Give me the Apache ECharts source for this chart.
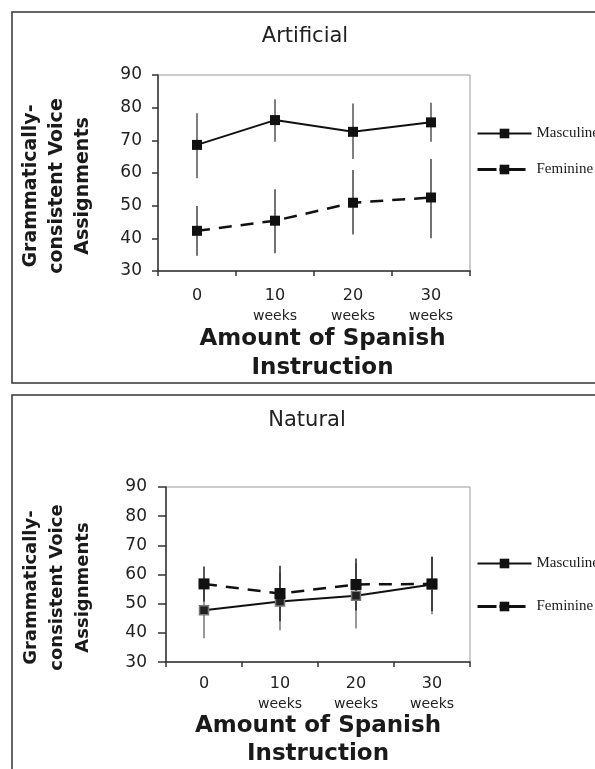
<!DOCTYPE html>
<html>
<head>
<meta charset="utf-8">
<script src="https://cdn.jsdelivr.net/npm/echarts@6/dist/echarts.min.js"></script>
<style>
  html, body { margin: 0; padding: 0; background: #fff; }
  #chart { width: 595px; height: 769px; }
</style>
</head>
<body>
<div id="chart"></div>
<script>
  // categories (x axis)
  var categories = ['0', '10\nweeks', '20\nweeks', '30\nweeks'];
  var seriesNames = ['Masculine', 'Feminine'];

  // Artificial panel
  var artMasc = [68.6, 76.2, 72.6, 75.5];
  var artMascLow = [58.4, 69.6, 64.3, 69.6];
  var artMascHigh = [78.3, 82.6, 81.3, 81.5];
  var artFem = [42.3, 45.4, 50.9, 52.5];
  var artFemLow = [34.7, 35.4, 41.2, 40.0];
  var artFemHigh = [49.9, 55.0, 60.9, 64.3];

  // Natural panel
  var natMasc = [47.8, 50.8, 52.7, 56.6];
  var natMascLow = [38.2, 40.9, 41.5, 46.4];
  var natMascHigh = [57.4, 60.7, 63.9, 66.1];
  var natFem = [56.8, 53.5, 56.6, 56.8];
  var natFemLow = [50.8, 44.0, 47.7, 47.5];
  var natFemHigh = [62.8, 63.0, 65.5, 66.1];

  function errData(low, high) {
    var out = [];
    for (var i = 0; i < low.length; i++) {
      out.push([i, low[i], high[i]]);
    }
    return out;
  }

  function errSeries(idx, low, high, color) {
    return {
      type: 'custom',
      xAxisIndex: idx,
      yAxisIndex: idx,
      z: 1,
      silent: true,
      data: errData(low, high),
      renderItem: function (params, api) {
        var p1 = api.coord([api.value(0), api.value(1)]);
        var p2 = api.coord([api.value(0), api.value(2)]);
        return {
          type: 'line',
          shape: { x1: p1[0], y1: p1[1], x2: p2[0], y2: p2[1] },
          style: { stroke: color, lineWidth: 1.5 }
        };
      }
    };
  }

  function xAxisFor(idx, margin, lh, nameGap, nameLh, namePad) {
    return {
      type: 'category',
      gridIndex: idx,
      data: categories,
      axisLine: { lineStyle: { color: '#333', width: 1.5 } },
      axisTick: { show: true, length: 5, lineStyle: { color: '#333', width: 1.5 } },
      axisLabel: {
        margin: margin,
        formatter: function (v) {
          var parts = v.split('\n');
          return parts.length > 1 ? '{n|' + parts[0] + '}\n{w|' + parts[1] + '}' : '{n|' + v + '}';
        },
        rich: {
          n: { fontFamily: 'DejaVu Sans', fontSize: 16, color: '#222', lineHeight: lh },
          w: { fontFamily: 'DejaVu Sans', fontSize: 14, color: '#222', lineHeight: lh }
        }
      },
      name: 'Amount of Spanish\nInstruction',
      nameLocation: 'middle',
      nameGap: nameGap,
      nameTextStyle: {
        fontFamily: 'DejaVu Sans', fontWeight: 'bold', fontSize: 23,
        color: '#1a1a1a', lineHeight: nameLh, padding: namePad
      }
    };
  }

  function yAxisFor(idx, tickLen, margin, nameGap, nameSize) {
    return {
      type: 'value',
      gridIndex: idx,
      min: 30, max: 90, interval: 10,
      splitLine: { show: false },
      axisLine: { show: true, lineStyle: { color: '#333', width: 1.5 } },
      axisTick: { show: true, length: tickLen, lineStyle: { color: '#333', width: 1.5 } },
      axisLabel: { margin: margin, fontFamily: 'DejaVu Sans', fontSize: 17, color: '#222' },
      name: 'Grammatically-\nconsistent Voice\nAssignments',
      nameLocation: 'middle',
      nameGap: nameGap,
      nameTextStyle: {
        fontFamily: 'DejaVu Sans', fontWeight: 'bold', fontSize: nameSize,
        color: '#1a1a1a', lineHeight: 26, padding: [0, 26, 0, 0]
      }
    };
  }

  // legend entries; the feminine one gets a short "—■—" look
  var legendData = [
    { name: seriesNames[0], lineStyle: { width: 2 } },
    { name: seriesNames[1], lineStyle: { width: 3, type: [19, 3, 26, 100] } }
  ];

  var chart = echarts.init(document.getElementById('chart'));
  chart.setOption({
    backgroundColor: '#fff',
    animation: false,
    graphic: [
      { type: 'rect', shape: { x: 12, y: 12, width: 620, height: 371 },
        style: { fill: 'none', stroke: '#333', lineWidth: 1.5 } },
      { type: 'rect', shape: { x: 12, y: 395, width: 620, height: 400 },
        style: { fill: 'none', stroke: '#333', lineWidth: 1.5 } }
    ],
    title: [
      { text: 'Artificial', left: 305, top: 26, textAlign: 'center', padding: 0,
        textStyle: { fontFamily: 'DejaVu Sans', fontWeight: 'normal', fontSize: 21, color: '#222' } },
      { text: 'Natural', left: 307, top: 410, textAlign: 'center', padding: 0,
        textStyle: { fontFamily: 'DejaVu Sans', fontWeight: 'normal', fontSize: 21, color: '#222' } }
    ],
    legend: [
      { data: legendData, orient: 'vertical', left: 476, top: 126, padding: 0,
        itemWidth: 54, itemHeight: 12, itemGap: 21,
        textStyle: { fontFamily: 'Liberation Serif', fontSize: 15, color: '#1a1a1a', lineHeight: 14 } },
      { data: legendData, orient: 'vertical', left: 476, top: 556, padding: 0,
        itemWidth: 54, itemHeight: 12, itemGap: 28,
        textStyle: { fontFamily: 'Liberation Serif', fontSize: 15, color: '#1a1a1a', lineHeight: 14 } }
    ],
    grid: [
      { left: 158, top: 75, width: 312, height: 196, show: true, borderColor: '#999', borderWidth: 1 },
      { left: 166, top: 487, width: 304, height: 183, show: true, borderColor: '#999', borderWidth: 1 }
    ],
    xAxis: [
      xAxisFor(0, 14, 21, 50, 29, [0, 0, 0, 17]),
      xAxisFor(1, 12, 20, 46, 28, [0, 0, 0, 0])
    ],
    yAxis: [
      yAxisFor(0, 6, 16, 62, 19),
      yAxisFor(1, 8, 19, 70, 18)
    ],
    series: [
      errSeries(0, artMascLow, artMascHigh, '#555'),
      errSeries(0, artFemLow, artFemHigh, '#444'),
      errSeries(1, natMascLow, natMascHigh, '#777'),
      errSeries(1, natFemLow, natFemHigh, '#222'),
      { name: 'Masculine', type: 'line', xAxisIndex: 0, yAxisIndex: 0, data: artMasc,
        symbol: 'rect', symbolSize: 10, z: 3,
        itemStyle: { color: '#111' }, lineStyle: { color: '#111', width: 2 } },
      { name: 'Feminine', type: 'line', xAxisIndex: 0, yAxisIndex: 0, data: artFem,
        symbol: 'rect', symbolSize: 10, z: 3,
        itemStyle: { color: '#111' }, lineStyle: { color: '#111', width: 2.5, type: [13, 9] } },
      { name: 'Masculine', type: 'line', xAxisIndex: 1, yAxisIndex: 1, data: natMasc,
        symbol: 'rect', symbolSize: 9, z: 3,
        itemStyle: { color: '#222', borderColor: '#777', borderWidth: 1.5 },
        lineStyle: { color: '#111', width: 2 } },
      { name: 'Feminine', type: 'line', xAxisIndex: 1, yAxisIndex: 1, data: natFem,
        symbol: 'rect', symbolSize: 11, z: 4,
        itemStyle: { color: '#111' }, lineStyle: { color: '#111', width: 2.5, type: [13, 9] } }
    ]
  });
</script>
</body>
</html>
